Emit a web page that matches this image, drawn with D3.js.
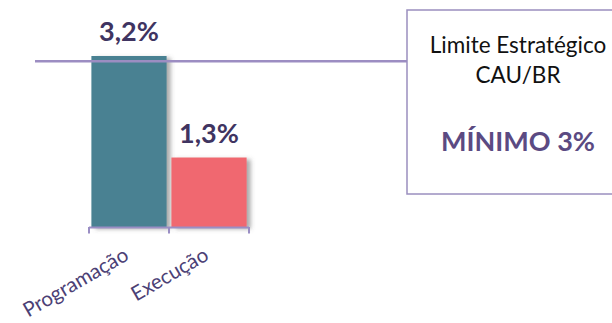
<!DOCTYPE html>
<html><head><meta charset="utf-8">
<script src="https://cdn.jsdelivr.net/npm/d3@7"></script>
<style>
html,body{margin:0;padding:0;background:#fff;}
svg{display:block;}
</style></head>
<body>
<svg id="chart" width="612" height="323"></svg>
<script>
const categories = ["Programação", "Execução"];
const values = [3.2, 1.3];
const valueLabels = ["3,2%", "1,3%"];
const barColors = ["#4a8192", "#f0686f"];
const limitValue = 3.1;
const boxLines = ["Limite Estratégico", "CAU/BR"];
const boxHighlight = "MÍNIMO 3%";

const svg = d3.select("#chart");
const font = "Lato, 'Open Sans', sans-serif";

const defs = svg.append("defs");
const f = defs.append("filter").attr("id","shadow").attr("x","-20%").attr("y","-20%").attr("width","150%").attr("height","150%");
f.append("feDropShadow").attr("dx",4).attr("dy",2).attr("stdDeviation",2.2)
  .attr("flood-color","#555").attr("flood-opacity",0.5);

const x = d3.scaleBand().domain(categories).range([89, 249]).paddingInner(0.06).paddingOuter(0.03);
const y = d3.scaleLinear().domain([0, 3.2]).range([227, 56]);
const xb = d3.scaleLinear().domain([0, categories.length]).range([89, 249]);

// bars
svg.selectAll("rect.bar").data(values).join("rect")
  .attr("class","bar")
  .attr("x",(d,i)=>x(categories[i]))
  .attr("width",x.bandwidth())
  .attr("y",d=>y(d))
  .attr("height",d=>y(0)-y(d))
  .attr("fill",(d,i)=>barColors[i])
  .attr("filter","url(#shadow)");

// axis
const axisColor = "#9a8ec4";
svg.append("line").attr("x1",xb(0)).attr("x2",xb(categories.length))
  .attr("y1",y(0)+0.5).attr("y2",y(0)+0.5).attr("stroke",axisColor).attr("stroke-width",2);
svg.selectAll("line.tick").data(d3.range(categories.length+1)).join("line")
  .attr("class","tick")
  .attr("x1",d=>xb(d)).attr("x2",d=>xb(d))
  .attr("y1",y(0)).attr("y2",y(0)+6.5)
  .attr("stroke",axisColor).attr("stroke-width",2);

// x labels
svg.selectAll("text.xl").data(categories).join("text")
  .attr("class","xl")
  .attr("transform",d=>`translate(${x(d)+x.bandwidth()/2+1},259) rotate(-30)`)
  .attr("text-anchor","end")
  .attr("font-family",font).attr("font-size",20.5)
  .attr("fill","#4b4075")
  .text(d=>d);

// value labels
svg.selectAll("text.vl").data(values).join("text")
  .attr("class","vl")
  .attr("x",(d,i)=>x(categories[i])+x.bandwidth()/2)
  .attr("y",d=>y(d)-15)
  .attr("text-anchor","middle")
  .attr("font-family",font).attr("font-weight","bold").attr("font-size",27)
  .attr("fill","#3f3461")
  .text((d,i)=>valueLabels[i]);

// limit line
svg.append("line").attr("x1",35).attr("x2",407)
  .attr("y1",y(limitValue)).attr("y2",y(limitValue))
  .attr("stroke","#9c8dc2").attr("stroke-width",2.5);

// box
svg.append("rect").attr("x",407).attr("y",10).attr("width",230).attr("height",184)
  .attr("fill","#fff").attr("stroke","#9a8fbf").attr("stroke-width",1.5);
const cx = 518;
svg.selectAll("text.bl").data(boxLines).join("text")
  .attr("class","bl")
  .attr("x",cx).attr("y",(d,i)=>53+i*30)
  .attr("text-anchor","middle")
  .attr("font-family",font).attr("font-size",22.5)
  .attr("fill","#111")
  .text(d=>d);
svg.append("text").attr("x",cx).attr("y",151)
  .attr("text-anchor","middle")
  .attr("font-family",font).attr("font-weight","bold").attr("font-size",27)
  .attr("fill","#5b4a82")
  .text(boxHighlight);
</script>
</body></html>
